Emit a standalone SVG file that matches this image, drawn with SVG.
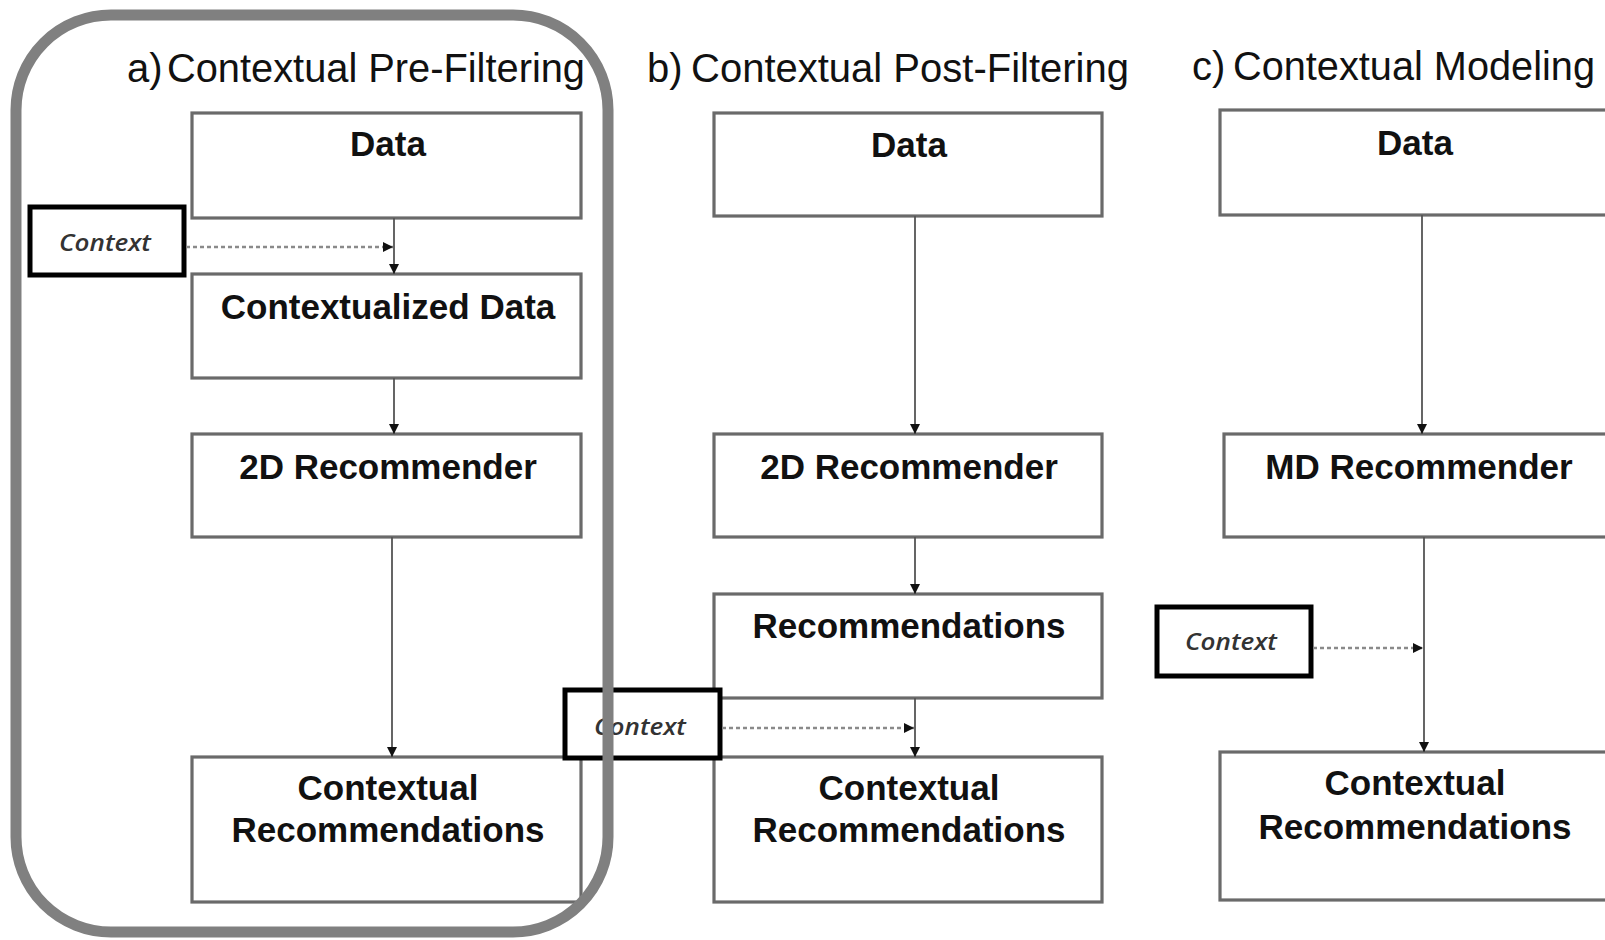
<svg xmlns="http://www.w3.org/2000/svg" width="1605" height="940" viewBox="0 0 1605 940">
  <style>
    .box { fill: #ffffff; stroke: #6a6a6a; stroke-width: 3.2; }
    .ctx { fill: #ffffff; stroke: #000000; stroke-width: 5; }
    .lbl { font-family: "Liberation Sans", Arial, sans-serif; font-weight: bold; font-size: 35px; fill: #111; text-anchor: middle; }
    .ctxt { font-family: "Open Sans", "DejaVu Sans", sans-serif; font-style: italic; font-weight: 600; font-size: 24px; fill: #333; text-anchor: middle; }
    .title { font-family: "Liberation Sans", Arial, sans-serif; font-size: 40px; fill: #111; }
    .solid { stroke: #555; stroke-width: 1.8; fill: none; }
    .dotted { stroke: #8a8a8a; stroke-width: 2.5; stroke-dasharray: 4 3; fill: none; }
    .frame { fill: none; stroke: #808080; stroke-width: 11; }
  </style>
  <defs>
    <marker id="arrow" markerUnits="userSpaceOnUse" markerWidth="12" markerHeight="12" refX="10" refY="6" orient="auto">
      <path d="M0,1 L10,6 L0,11 Z" fill="#111"/>
    </marker>
  </defs>

  <rect width="1605" height="940" fill="#ffffff"/>

  <!-- section titles -->
  <g id="titles">
    <text class="title" x="127" y="82">a)</text>
    <text class="title" x="167" y="82" textLength="418" lengthAdjust="spacingAndGlyphs">Contextual Pre-Filtering</text>
    <text class="title" x="647" y="82">b)</text>
    <text class="title" x="691" y="82" textLength="438" lengthAdjust="spacingAndGlyphs">Contextual Post-Filtering</text>
    <text class="title" x="1192" y="80">c)</text>
    <text class="title" x="1233" y="80" textLength="362" lengthAdjust="spacingAndGlyphs">Contextual Modeling</text>
  </g>

  <!-- a) pre-filtering -->
  <g id="a-data">
    <rect class="box" x="192" y="113" width="389" height="105"/>
    <text class="lbl" x="388" y="156">Data</text>
  </g>
  <g id="a-context">
    <rect class="ctx" x="30" y="207" width="154" height="68"/>
    <text class="ctxt" x="105" y="251" textLength="92" lengthAdjust="spacingAndGlyphs">Context</text>
  </g>
  <g id="a-contextualized">
    <rect class="box" x="192" y="274" width="389" height="104"/>
    <text class="lbl" x="388" y="319">Contextualized Data</text>
  </g>
  <g id="a-2d">
    <rect class="box" x="192" y="434" width="389" height="103"/>
    <text class="lbl" x="388" y="479">2D Recommender</text>
  </g>
  <g id="a-results">
    <rect class="box" x="192" y="757" width="389" height="145"/>
    <text class="lbl" x="388" y="800">Contextual</text>
    <text class="lbl" x="388" y="842">Recommendations</text>
  </g>

  <!-- b) post-filtering -->
  <g id="b-data">
    <rect class="box" x="714" y="113" width="388" height="103"/>
    <text class="lbl" x="909" y="157">Data</text>
  </g>
  <g id="b-2d">
    <rect class="box" x="714" y="434" width="388" height="103"/>
    <text class="lbl" x="909" y="479">2D Recommender</text>
  </g>
  <g id="b-recs">
    <rect class="box" x="714" y="594" width="388" height="104"/>
    <text class="lbl" x="909" y="638">Recommendations</text>
  </g>
  <g id="b-results">
    <rect class="box" x="714" y="757" width="388" height="145"/>
    <text class="lbl" x="909" y="800">Contextual</text>
    <text class="lbl" x="909" y="842">Recommendations</text>
  </g>
  <g id="b-context">
    <rect class="ctx" x="565" y="690" width="155" height="68"/>
    <text class="ctxt" x="640" y="735" textLength="92" lengthAdjust="spacingAndGlyphs">Context</text>
  </g>

  <!-- c) contextual modeling -->
  <g id="c-data">
    <rect class="box" x="1220" y="110" width="400" height="105"/>
    <text class="lbl" x="1415" y="155">Data</text>
  </g>
  <g id="c-md">
    <rect class="box" x="1224" y="434" width="400" height="103"/>
    <text class="lbl" x="1419" y="479">MD Recommender</text>
  </g>
  <g id="c-context">
    <rect class="ctx" x="1157" y="607" width="154" height="69"/>
    <text class="ctxt" x="1231" y="650" textLength="92" lengthAdjust="spacingAndGlyphs">Context</text>
  </g>
  <g id="c-results">
    <rect class="box" x="1220" y="752" width="400" height="148"/>
    <text class="lbl" x="1415" y="795">Contextual</text>
    <text class="lbl" x="1415" y="839">Recommendations</text>
  </g>

  <!-- connectors -->
  <g id="connectors">
    <line class="dotted" x1="186" y1="247" x2="393" y2="247" marker-end="url(#arrow)"/>
    <line class="solid" x1="394" y1="218" x2="394" y2="274" marker-end="url(#arrow)"/>
    <line class="solid" x1="394" y1="378" x2="394" y2="434" marker-end="url(#arrow)"/>
    <line class="solid" x1="392" y1="537" x2="392" y2="757" marker-end="url(#arrow)"/>

    <line class="solid" x1="915" y1="216" x2="915" y2="434" marker-end="url(#arrow)"/>
    <line class="solid" x1="915" y1="537" x2="915" y2="594" marker-end="url(#arrow)"/>
    <line class="solid" x1="915" y1="698" x2="915" y2="757" marker-end="url(#arrow)"/>
    <line class="dotted" x1="722" y1="728" x2="914" y2="728" marker-end="url(#arrow)"/>

    <line class="solid" x1="1422" y1="215" x2="1422" y2="434" marker-end="url(#arrow)"/>
    <line class="solid" x1="1424" y1="537" x2="1424" y2="752" marker-end="url(#arrow)"/>
    <line class="dotted" x1="1313" y1="648" x2="1423" y2="648" marker-end="url(#arrow)"/>
  </g>

  <!-- highlight frame around the pre-filtering column -->
  <rect id="frame" class="frame" x="16" y="15" width="592" height="917" rx="95" ry="95"/>
</svg>
